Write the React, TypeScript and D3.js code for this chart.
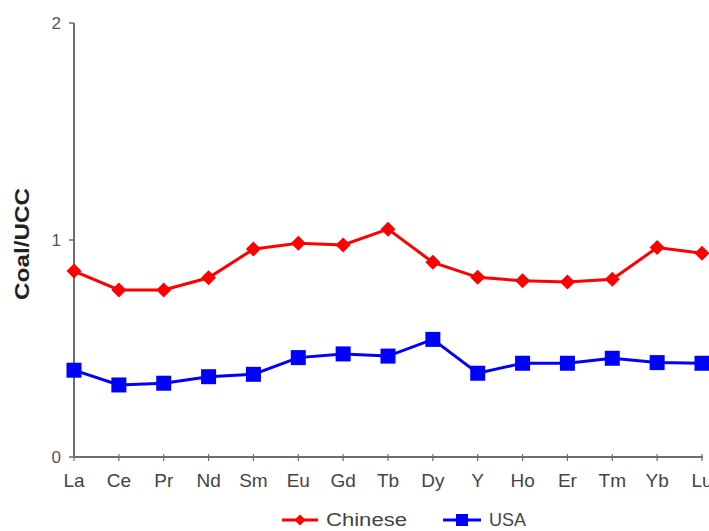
import React from "react";
import * as d3 from "d3";

const elements = ["La","Ce","Pr","Nd","Sm","Eu","Gd","Tb","Dy","Y","Ho","Er","Tm","Yb","Lu"];
const chinese = [0.857,0.77,0.77,0.826,0.958,0.985,0.977,1.05,0.897,0.828,0.812,0.806,0.819,0.965,0.939];
const usa = [0.40,0.332,0.34,0.37,0.381,0.458,0.475,0.465,0.542,0.386,0.432,0.432,0.455,0.435,0.432];
const yTicks = [0,1,2];

export default function App() {
  const W = 709, H = 531;
  const x = d3.scalePoint<string>().domain(elements).range([74, 702]).padding(0);
  const y = d3.scaleLinear().domain([0, 2]).range([457, 23]);
  const line = d3.line<number>().x((_, i) => x(elements[i])!).y(d => y(d));
  const axisColor = "#6e6e6e";
  const font = "Liberation Sans, Arial, sans-serif";
  return (
    <svg width={W} height={H} style={{ position: "absolute", left: 0, top: 0, background: "#fff" }}>
      {/* y axis */}
      <line x1={74} x2={74} y1={y(2)} y2={y(0)} stroke={axisColor} strokeWidth={2} />
      {yTicks.map(t => (
        <g key={t}>
          <line x1={69} x2={74} y1={y(t)} y2={y(t)} stroke={axisColor} strokeWidth={1.5} />
          <text x={61} y={y(t)} dy="0.35em" textAnchor="end" fontFamily={font} fontSize={17} fill="#555">{t}</text>
        </g>
      ))}
      {/* x axis */}
      <line x1={74} x2={703} y1={y(0)} y2={y(0)} stroke={axisColor} strokeWidth={2} />
      {elements.map(e => (
        <g key={e}>
          <line x1={x(e)} x2={x(e)} y1={y(0) - 3} y2={y(0) + 4} stroke={axisColor} strokeWidth={1.2} />
          <text x={x(e)} y={480} dy="0.35em" textAnchor="middle" fontFamily={font} fontSize={19} fill="#444">{e}</text>
        </g>
      ))}
      <text transform={`translate(29,244) rotate(-90)`} textAnchor="middle" fontFamily={font} fontSize={20} fontWeight="bold" fill="#222" textLength={112} lengthAdjust="spacingAndGlyphs">Coal/UCC</text>
      {/* series */}
      <path d={line(chinese)!} fill="none" stroke="#ff0000" strokeWidth={3} />
      {chinese.map((v, i) => {
        const cx = x(elements[i])!, cy = y(v), r = 7.5;
        return <path key={i} d={`M${cx},${cy - r}L${cx + r},${cy}L${cx},${cy + r}L${cx - r},${cy}Z`} fill="#ff0000" />;
      })}
      <path d={line(usa)!} fill="none" stroke="#0000ff" strokeWidth={3} />
      {usa.map((v, i) => {
        const cx = x(elements[i])!, cy = y(v), s = 15;
        return <rect key={i} x={cx - s / 2} y={cy - s / 2} width={s} height={s} fill="#0000ff" />;
      })}
      {/* legend */}
      <line x1={282} x2={318} y1={520} y2={520} stroke="#ff0000" strokeWidth={3} />
      <path d={`M300,514.5L305.5,520L300,525.5L294.5,520Z`} fill="#ff0000" />
      <text x={326} y={520} dy="0.35em" fontFamily={font} fontSize={18} fill="#444" textLength={81} lengthAdjust="spacingAndGlyphs">Chinese</text>
      <line x1={443} x2={481} y1={520} y2={520} stroke="#0000ff" strokeWidth={3} />
      <rect x={456} y={514} width={12} height={12} fill="#0000ff" />
      <text x={489} y={520} dy="0.35em" fontFamily={font} fontSize={18} fill="#444">USA</text>
    </svg>
  );
}
